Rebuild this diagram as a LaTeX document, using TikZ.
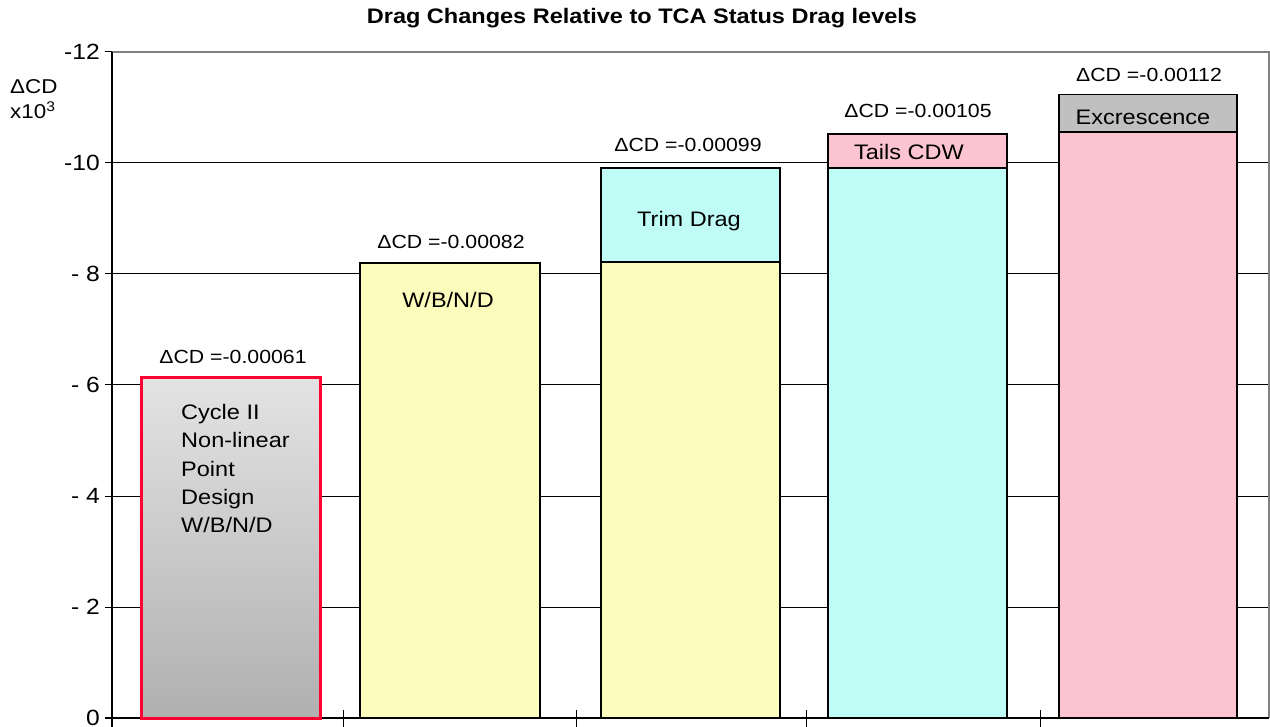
\documentclass[tikz,border=0pt]{standalone}
\usepackage{fontspec}
\setmainfont[FakeStretch=1.12]{Liberation Sans}
\usepackage{tikz}
\usetikzlibrary{positioning}
\definecolor{barRed}{HTML}{FF0033}
\definecolor{barGrayTop}{HTML}{E3E3E3}
\definecolor{barGrayBot}{HTML}{B0B0B0}
\definecolor{barYellow}{HTML}{FCFCBC}
\definecolor{barCyan}{HTML}{C0FCF6}
\definecolor{barPink}{HTML}{FCC4D0}
\definecolor{barGray}{HTML}{C0C0C0}
\definecolor{frameGray}{HTML}{808080}

\begin{document}
\begin{tikzpicture}[x=1pt,y=-1pt,
 bar/.style={draw=black,line width=1.5pt},
 gridline/.style={black,line width=1pt},
 ticklbl/.style={anchor=east,inner sep=0pt,font=\fontsize{22}{26}\selectfont},
 vallbl/.style={anchor=base,inner sep=0pt,font=\fontsize{19}{22}\selectfont},
 barlbl/.style={anchor=base,inner sep=0pt,font=\fontsize{21}{25}\selectfont}]
\useasboundingbox (0,0) rectangle (1270,727);
\node[anchor=base,inner sep=0pt,font=\bfseries\fontsize{21}{24}\selectfont] (title) at (642,23.5) {Drag Changes Relative to TCA Status Drag levels};
\node[anchor=base west,inner sep=0pt,font=\fontsize{20}{24}\selectfont] (ycd) at (10,94) {ΔCD};
\node[anchor=base west,inner sep=0pt,font=\fontsize{20}{24}\selectfont] (yexp) at (10,119) {x10\textsuperscript{3}};
\begin{scope}[shift={(0,718)},y=55.5pt]
 \foreach \v in {2,4,...,10} \draw[gridline] (112,\v) -- (1269,\v);
 \draw[frameGray,line width=2pt] (112,12) -- (1269,12) -- (1269,0);
 \draw[black,line width=1.2pt] (112,-0.17) -- (112,12);
 \draw[black,line width=1.2pt] (105,0) -- (1269,0);
 \foreach \v in {0,2,...,12} \draw[line width=1pt] (105,\v) -- (112,\v);
 \foreach \x in {343,576,806,1040} \draw[line width=1pt] (\x,0.144) -- (\x,-0.17);
 \foreach \v/\t in {0/0,2/- 2,4/- 4,6/- 6,8/- 8,10/-10,12/-12}
  \node[ticklbl] (tk\v) at (100,\v) {\t};
 \draw[draw=barRed,line width=3pt,top color=barGrayTop,bottom color=barGrayBot] (141,0) rectangle (320,6.13);
 \draw[bar,fill=barYellow] (360,0) rectangle (540,8.2);
 \draw[bar,fill=barYellow] (601,0) rectangle (780,8.22);
 \draw[bar,fill=barCyan] (601,8.22) rectangle (780,9.91);
 \draw[bar,fill=barCyan] (828,0) rectangle (1007,9.91);
 \draw[bar,fill=barPink] (828,9.91) rectangle (1007,10.52);
 \draw[bar,fill=barPink] (1059,0) rectangle (1237,10.56);
 \draw[bar,fill=barGray] (1059,10.56) rectangle (1237,11.23);
\end{scope}
\node[vallbl] (v1) at (233,364) {ΔCD =-0.00061};
\node[vallbl] (v2) at (451,249) {ΔCD =-0.00082};
\node[vallbl] (v3) at (688,152) {ΔCD =-0.00099};
\node[vallbl] (v4) at (918,118) {ΔCD =-0.00105};
\node[vallbl] (v5) at (1149,82) {ΔCD =-0.00112};
\foreach \t [count=\i] in {Cycle II,Non-linear,Point,Design,W/B/N/D}
 \node[barlbl,anchor=base west] (cy\i) at (181,{419.5+28.3*(\i-1)}) {\t};
\node[barlbl] (wbnd) at (448,307.5) {W/B/N/D};
\node[barlbl] (trim) at (689,226.5) {Trim Drag};
\node[barlbl] (tails) at (909,159.5) {Tails CDW};
\node[barlbl] (excr) at (1143,124.5) {Excrescence};
\end{tikzpicture}
\end{document}
